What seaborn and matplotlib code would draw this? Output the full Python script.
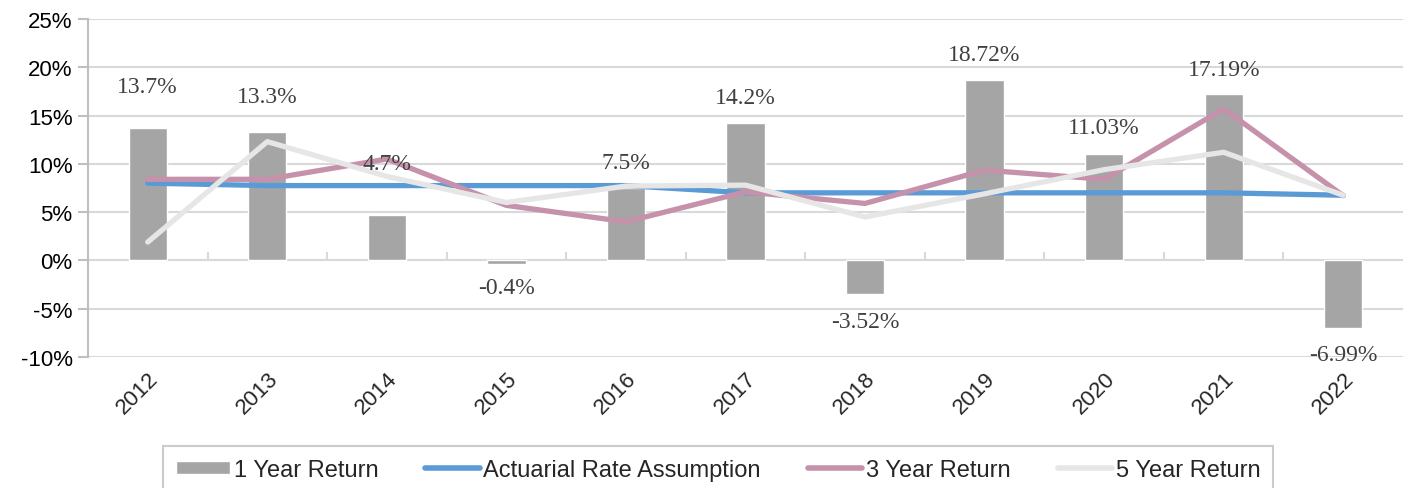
import numpy as np
import pandas as pd
import matplotlib
matplotlib.use('Agg')
import matplotlib.pyplot as plt
import seaborn as sns
from matplotlib.ticker import FixedLocator, FuncFormatter

# Datos del gráfico
years = ['2012', '2013', '2014', '2015', '2016', '2017', '2018', '2019', '2020', '2021', '2022']
one_year = [13.7, 13.3, 4.7, -0.4, 7.5, 14.2, -3.52, 18.72, 11.03, 17.19, -6.99]
one_year_labels = ['13.7%', '13.3%', '4.7%', '-0.4%', '7.5%', '14.2%', '-3.52%', '18.72%', '11.03%', '17.19%', '-6.99%']
actuarial = [8.0, 7.75, 7.75, 7.75, 7.75, 7.0, 7.0, 7.0, 7.0, 7.0, 6.75]
three_year = [8.4, 8.4, 10.5, 5.7, 4.0, 7.1, 5.9, 9.35, 8.4, 15.7, 6.7]
five_year = [1.9, 12.3, 8.7, 6.0, 7.7, 7.8, 4.5, 6.9, 9.4, 11.2, 6.75]
# desplazamiento vertical de cada etiqueta (puntos porcentuales)
label_lift = [4.3, 3.7, 5.3, -2.4, 2.6, 2.7, -2.8, 2.6, 2.7, 2.6, -2.8]

df = pd.DataFrame({'year': years, 'one': one_year, 'act': actuarial,
                   'three': three_year, 'five': five_year})
df['pos'] = np.arange(len(df))

sns.set_theme(style='white')
plt.rcParams['font.family'] = ['Liberation Sans', 'DejaVu Sans']

fig = plt.figure(figsize=(14.05, 4.89), dpi=100)
ax = fig.add_axes([0.0626, 0.268, 0.936, 0.691])

sns.barplot(data=df, x='year', y='one', color='#a5a5a5', saturation=1,
            width=0.32, ax=ax, label='1 Year Return', zorder=2)
line_kw = dict(lw=3.8, solid_capstyle='round', solid_joinstyle='round')
sns.lineplot(data=df, x='pos', y='act', color='#5b9bd5', ax=ax,
             label='Actuarial Rate Assumption', zorder=3, **line_kw)
sns.lineplot(data=df, x='pos', y='three', color='#c591ab', ax=ax,
             label='3 Year Return', zorder=4, **line_kw)
sns.lineplot(data=df, x='pos', y='five', color='#e6e6e6', ax=ax,
             label='5 Year Return', zorder=5, **line_kw)

for i, (v, lab) in enumerate(zip(one_year, one_year_labels)):
    ax.text(i, v + label_lift[i], lab, ha='center', va='center',
            family='Liberation Serif', fontsize=17, color='#404040', zorder=6)

ax.set_xlim(-0.5, len(years) - 0.5)
ax.set_ylim(-10, 25)
ax.yaxis.set_major_locator(FixedLocator(np.arange(-10, 26, 5)))
ax.yaxis.set_major_formatter(FuncFormatter(lambda v, p: f'{v:.0f}%'))
ax.grid(axis='y', color='#d9d9d9', lw=1.5, zorder=0)
ax.set_axisbelow(True)
ax.set_xlabel('')
ax.set_ylabel('')

for s in ['top', 'right', 'bottom']:
    ax.spines[s].set_visible(False)
ax.spines['left'].set_color('#bfbfbf')
ax.spines['left'].set_linewidth(1.5)
ax.tick_params(axis='y', left=True, length=7, width=1.5, color='#bfbfbf',
               labelsize=16, labelcolor='black', pad=4)
ax.tick_params(axis='x', bottom=False, labelsize=16, pad=2)
plt.setp(ax.get_xticklabels(), rotation=45, ha='right', rotation_mode='anchor')

# marcas entre categorías sobre la línea del 0%
zero_frac = 10 / 35
sec = ax.secondary_xaxis(zero_frac)
sec.set_xticks(np.arange(0.5, len(years) - 1, 1.0))
sec.tick_params(axis='x', direction='in', length=6, width=1.5, color='#d9d9d9',
                labelbottom=False, labeltop=False)
sec.spines['bottom'].set_visible(False)
sec.spines['top'].set_visible(False)

ax.get_legend().remove()
handles, labels = ax.get_legend_handles_labels()
order = [labels.index(n) for n in ['1 Year Return', 'Actuarial Rate Assumption',
                                   '3 Year Return', '5 Year Return']]
leg = fig.legend([handles[k] for k in order], [labels[k] for k in order],
                 loc='upper center', bbox_to_anchor=(0.511, 0.086),
                 borderaxespad=0, ncol=4, frameon=True,
                 fancybox=False, edgecolor='#bfbfbf', fontsize=17,
                 handlelength=2.3, handleheight=0.5, handletextpad=0.15,
                 columnspacing=2.0, borderpad=0.55)
leg.get_frame().set_linewidth(1.5)
for h in leg.legend_handles:
    if hasattr(h, 'set_linewidth') and not hasattr(h, 'get_height'):
        h.set_linewidth(4)

fig.savefig('out.png', dpi=100)
